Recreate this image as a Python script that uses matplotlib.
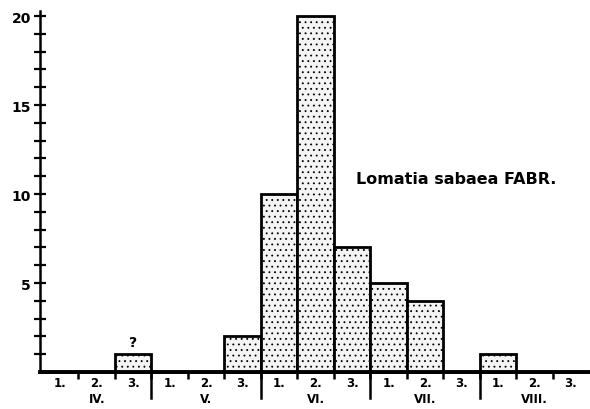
import matplotlib.pyplot as plt
import numpy as np

months = ['IV.', 'V.', 'VI.', 'VII.', 'VIII.']
decades = ['1.', '2.', '3.']
counts = [0, 0, 1, 0, 0, 2, 10, 20, 7, 5, 4, 0, 1, 0, 0]
question_bin = 2

plt.rcParams['hatch.linewidth'] = 0.6

fig = plt.figure(figsize=(5.9, 4.1), dpi=100)
ax = fig.add_axes([0, 0, 1, 1])
ax.set_xlim(-1.15, 15.02)
ax.set_ylim(-2.08, 20.96)

x = np.arange(len(counts))
ax.bar(x + 0.5, counts, width=1.0, facecolor='#f4f4f4', edgecolor='black',
       linewidth=2, hatch='...', zorder=2)

# axes
for s in ['top', 'right']:
    ax.spines[s].set_visible(False)
ax.spines['left'].set_position(('data', -0.05))
ax.spines['bottom'].set_position(('data', 0))
ax.spines['left'].set_bounds(0, 20.3)
ax.spines['bottom'].set_bounds(-0.05, 15.02)
ax.spines['left'].set_linewidth(1.8)
ax.spines['bottom'].set_linewidth(2.8)
ax.spines['left'].set_zorder(3)
ax.spines['bottom'].set_zorder(3)

ax.set_yticks([5, 10, 15, 20])
ax.set_yticks(range(1, 21), minor=True)
ax.tick_params(axis='y', which='both', direction='inout', length=9, width=1.6,
               labelsize=10, pad=2)
for lab in ax.get_yticklabels():
    lab.set_fontweight('bold')

# x ticks at decade boundaries
ax.set_xticks(np.arange(1, 15))
ax.set_xticklabels([])
ax.tick_params(axis='x', direction='out', length=5, width=1.8)

# month boundaries
for b in [3, 6, 9, 12]:
    ax.plot([b, b], [0, -1.45], color='black', lw=1.8, clip_on=False, zorder=3)

for i in range(len(counts)):
    ax.text(i + 0.5, -0.25, decades[i % 3], ha='center', va='top',
            fontsize=8.5, fontweight='bold')
for m, name in enumerate(months):
    ax.text(m * 3 + 1.5, -1.1, name, ha='center', va='top',
            fontsize=8.5, fontweight='bold')

ax.text(question_bin + 0.5, counts[question_bin] + 0.3, '?', ha='center',
        va='bottom', fontsize=10, fontweight='bold')

ax.text(8.6, 10.9, 'Lomatia sabaea FABR.', ha='left', va='center',
        fontsize=11.5, fontweight='heavy')

fig.savefig('out.png', dpi=100)
